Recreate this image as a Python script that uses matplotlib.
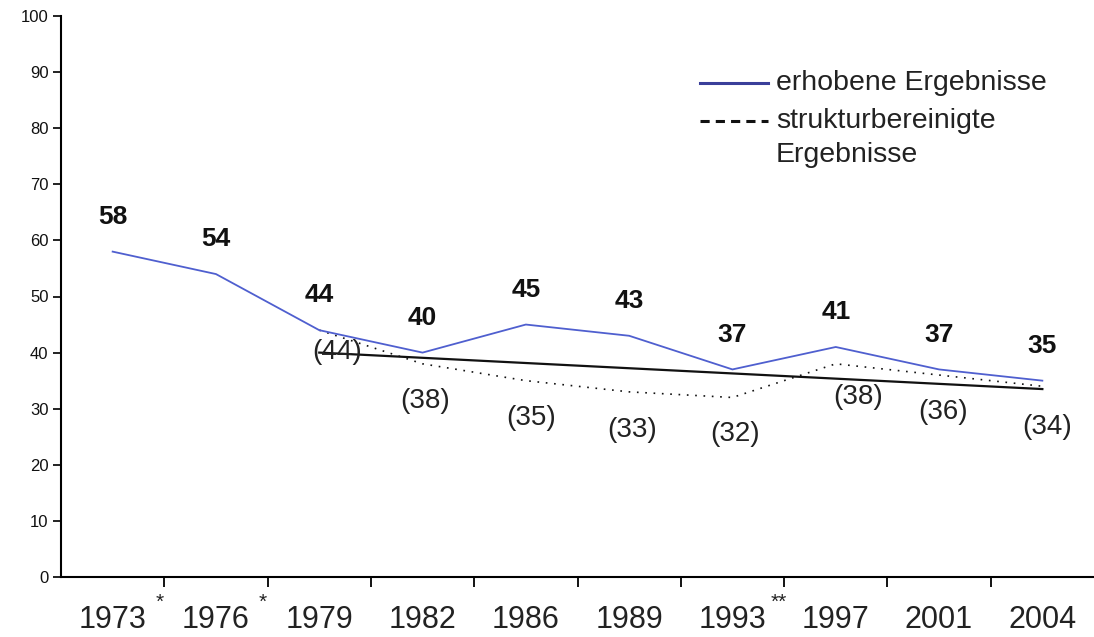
import matplotlib
matplotlib.use("Agg")
import matplotlib.pyplot as plt
from matplotlib.lines import Line2D
import matplotlib.transforms as mtransforms

plt.rcParams['font.family'] = ['Liberation Sans', 'DejaVu Sans']

# ---- data ----
years = ["1973", "1976", "1979", "1982", "1986", "1989", "1993", "1997", "2001", "2004"]
observed = [58, 54, 44, 40, 45, 43, 37, 41, 37, 35]
adjusted_years = ["1979", "1982", "1986", "1989", "1993", "1997", "2001", "2004"]
adjusted = [44, 38, 35, 33, 32, 38, 36, 34]
trend_years = ["1979", "2004"]
trend = [40, 33.5]
footnote_marks = {1: "*", 2: "*", 7: "**"}  # boundary index -> mark (after year)
legend_labels = ["erhobene Ergebnisse", "strukturbereinigte\nErgebnisse"]

W, H = 1094, 637
fig = plt.figure(figsize=(W / 100, H / 100), dpi=100)
ax = fig.add_axes([61 / W, 1 - 577 / H, 1 - 61 / W, (577 - 16) / H])

xi = {y: i for i, y in enumerate(years)}
x_obs = list(range(len(years)))
x_adj = [xi[y] for y in adjusted_years]
x_tr = [xi[y] for y in trend_years]

blue = "#4f5fcf"
ax.plot(x_obs, observed, color=blue, lw=1.3, zorder=3)
ax.plot(x_adj, adjusted, color="#111111", lw=1.2, linestyle=(0, (1, 4)), zorder=2)
ax.plot(x_tr, trend, color="#111111", lw=1.6, zorder=2)

ax.set_xlim(-0.5, len(years) - 0.5)
ax.set_ylim(0, 100)
for s in ["top", "right"]:
    ax.spines[s].set_visible(False)
ax.spines["left"].set_linewidth(1.5)
ax.spines["bottom"].set_linewidth(1.5)

ax.set_yticks(range(0, 101, 10))
ax.tick_params(axis="y", length=6, width=1.3, labelsize=12, pad=3, colors="#111111")
ax.set_xticks([i + 0.5 for i in range(len(years) - 1)])
ax.set_xticklabels([])
ax.tick_params(axis="x", length=7, width=1.3)

trans = mtransforms.blended_transform_factory(ax.transData, ax.transAxes)
for i, y in enumerate(years):
    ax.text(i, -0.0766, y, transform=trans, ha="center", va="center",
            fontsize=22, color="#222222")
star_off = mtransforms.offset_copy(trans, fig=fig, x=-5, y=0, units="dots")
for b, m in footnote_marks.items():
    ax.text(b - 0.5, -0.045, m, transform=star_off, ha="center", va="center",
            fontsize=15, color="#222222")

# value labels
for i, v in enumerate(observed):
    ax.annotate(str(v), (i, v), xytext=(0, 25), textcoords="offset points",
                ha="center", va="center", fontsize=19, fontweight="bold", color="#111111")

adj_dx = [18, 3, 5, 3, 3, 22, 4, 5]
adj_dy = [-22, -37, -37, -38, -37, -33, -37, -41]
for x, v, dx, dy in zip(x_adj, adjusted, adj_dx, adj_dy):
    ax.annotate(f"({v})", (x, v), xytext=(dx * 0.72, dy * 0.72), textcoords="offset points",
                ha="center", va="center", fontsize=20, color="#222222")

# legend (manual)
fig.add_artist(Line2D([700 / W, 768 / W], [1 - 83 / H, 1 - 83 / H], color="#3a3f9a", lw=2.2))
fig.add_artist(Line2D([700 / W, 768 / W], [1 - 121 / H, 1 - 121 / H], color="#111111", lw=2.2,
                      linestyle=(0, (3, 2))))
fig.text(776 / W, 1 - 83 / H, legend_labels[0], ha="left", va="center", fontsize=20.5, color="#222222")
fig.text(776 / W, 1 - 138 / H, legend_labels[1], ha="left", va="center", fontsize=20.5,
         color="#222222", linespacing=1.4)

fig.savefig("out.png", dpi=100, facecolor="white")
